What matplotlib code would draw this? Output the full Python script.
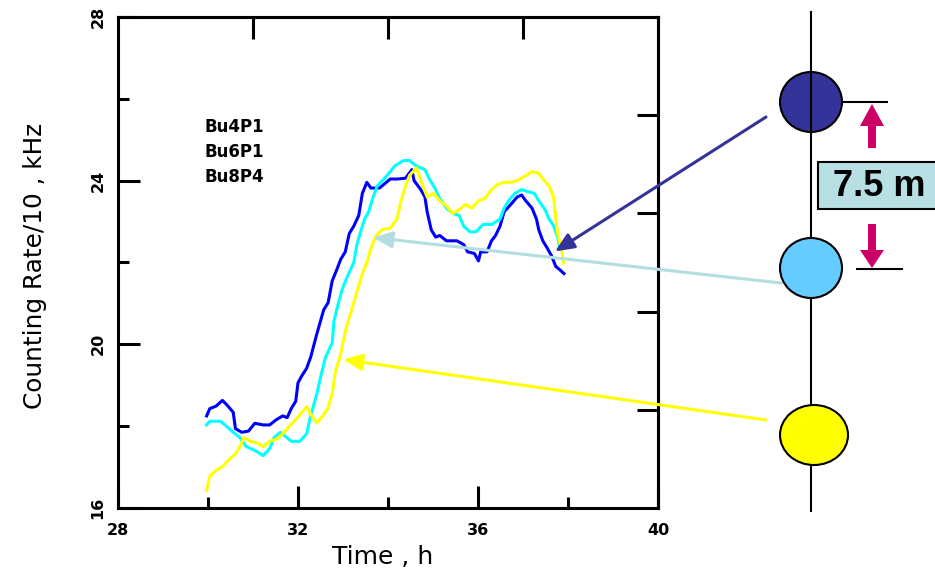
import matplotlib.pyplot as plt
from matplotlib.patches import Ellipse, FancyArrow, Rectangle

# counting rate traces (time in h, rate/10 in kHz)
time_bu4 = [29.97, 30.04, 30.18, 30.32, 30.42, 30.56, 30.61, 30.75, 30.9, 31.04, 31.23, 31.37,
            31.52, 31.66, 31.76, 31.85, 31.95, 32.0, 32.09, 32.19, 32.28, 32.41, 32.5, 32.57,
            32.67, 32.76, 32.86, 32.95, 33.05, 33.14, 33.24, 33.35, 33.43, 33.53, 33.62, 33.81,
            33.91, 34.05, 34.2, 34.39, 34.53, 34.58, 34.73, 34.82, 34.87, 34.96, 35.06, 35.15,
            35.3, 35.53, 35.68, 35.77, 35.92, 36.01, 36.06, 36.2, 36.3, 36.39, 36.49, 36.58,
            36.73, 36.87, 36.97, 37.06, 37.2, 37.3, 37.35, 37.44, 37.54, 37.63, 37.73, 37.82,
            37.91]
rate_bu4 = [18.25, 18.43, 18.49, 18.63, 18.52, 18.34, 17.94, 17.85, 17.88, 18.07, 18.03, 18.03,
            18.16, 18.25, 18.21, 18.43, 18.61, 19.06, 19.24, 19.41, 19.68, 20.22, 20.57, 20.84,
            21.02, 21.55, 21.82, 22.08, 22.26, 22.71, 22.89, 23.15, 23.69, 23.96, 23.82, 23.82,
            23.91, 24.04, 24.04, 24.06, 24.27, 24.0, 23.78, 23.6, 23.24, 22.8, 22.62, 22.66,
            22.53, 22.53, 22.44, 22.26, 22.22, 22.04, 22.26, 22.26, 22.53, 22.66, 22.89, 23.24,
            23.42, 23.6, 23.65, 23.51, 23.33, 23.06, 22.8, 22.53, 22.35, 22.17, 21.9, 21.82,
            21.73]

time_bu6 = [29.97, 30.04, 30.28, 30.42, 30.56, 30.71, 30.85, 31.04, 31.23, 31.37, 31.47, 31.61,
            31.71, 31.85, 32.04, 32.19, 32.28, 32.42, 32.49, 32.61, 32.76, 32.8, 32.9, 32.99,
            33.09, 33.24, 33.31, 33.38, 33.48, 33.57, 33.67, 33.76, 33.91, 34.05, 34.15, 34.34,
            34.48, 34.63, 34.82, 34.92, 35.06, 35.15, 35.3, 35.44, 35.58, 35.68, 35.82, 35.96,
            36.11, 36.3, 36.49, 36.58, 36.68, 36.82, 36.97, 37.11, 37.25, 37.35, 37.49, 37.58,
            37.68, 37.77, 37.82]
rate_bu6 = [18.03, 18.12, 18.12, 17.99, 17.85, 17.72, 17.5, 17.41, 17.28, 17.45, 17.72, 17.85,
            17.76, 17.63, 17.63, 17.81, 18.25, 18.79, 19.15, 19.68, 20.04, 20.57, 21.02, 21.37,
            21.64, 22.0, 22.44, 22.71, 23.06, 23.24, 23.6, 23.87, 24.04, 24.22, 24.36, 24.49,
            24.49, 24.36, 24.27, 24.04, 23.78, 23.56, 23.33, 23.2, 23.15, 22.89, 22.75, 22.75,
            22.93, 22.93, 23.06, 23.33, 23.51, 23.69, 23.78, 23.73, 23.69, 23.51, 23.29, 23.06,
            22.89, 22.62, 22.35]

time_bu8 = [29.97, 30.04, 30.18, 30.32, 30.47, 30.61, 30.71, 30.8, 30.94, 31.09, 31.23, 31.37,
            31.52, 31.66, 31.8, 31.95, 32.09, 32.19, 32.28, 32.42, 32.55, 32.66, 32.76, 32.83,
            32.95, 33.05, 33.14, 33.24, 33.33, 33.43, 33.53, 33.62, 33.72, 33.86, 34.05, 34.2,
            34.29, 34.39, 34.48, 34.63, 34.72, 34.87, 35.01, 35.15, 35.3, 35.44, 35.58, 35.72,
            35.86, 36.01, 36.15, 36.3, 36.44, 36.58, 36.73, 36.87, 37.01, 37.2, 37.35, 37.44,
            37.58, 37.68, 37.73, 37.77, 37.87, 37.9]
rate_bu8 = [16.43, 16.78, 16.92, 17.01, 17.19, 17.32, 17.5, 17.72, 17.63, 17.59, 17.5, 17.63,
            17.68, 17.81, 17.99, 18.16, 18.34, 18.48, 18.3, 18.08, 18.25, 18.43, 18.79, 19.33,
            19.77, 20.31, 20.66, 21.02, 21.37, 21.73, 22.0, 22.35, 22.62, 22.8, 22.84, 23.06,
            23.51, 23.87, 24.13, 24.31, 24.04, 23.6, 23.69, 23.51, 23.38, 23.2, 23.29, 23.42,
            23.33, 23.51, 23.56, 23.78, 23.91, 23.96, 23.96, 24.0, 24.09, 24.22, 24.18, 24.04,
            23.87, 23.6, 23.06, 22.71, 22.26, 21.99]

series_names = ["Bu4P1", "Bu6P1", "Bu8P4"]
series_colors = ["#0000ff", "#00ffff", "#ffff00"]
x_ticks = [28, 32, 36, 40]
y_ticks = [16, 20, 24, 28]

fig = plt.figure(figsize=(9.35, 5.74), dpi=100)
fig.patch.set_facecolor('white')

ax = fig.add_axes([118 / 935, 1 - 508 / 574, 540 / 935, 491 / 574])
for t, r, c in zip([time_bu4, time_bu6, time_bu8], [rate_bu4, rate_bu6, rate_bu8], series_colors):
    ax.plot(t, r, color=c, lw=2.2)

ax.set_xlim(28, 40)
ax.set_ylim(16, 28)
ax.set_xticks(x_ticks)
ax.set_xticklabels([str(v) for v in x_ticks], fontsize=11.5, fontweight='bold')
ax.set_xticks([30, 34, 38], minor=True)
ax.set_yticks(y_ticks)
ax.set_yticklabels([str(v) for v in y_ticks], fontsize=11.5, fontweight='bold',
                   rotation=90, va='center')
ax.set_yticks([18, 22, 26], minor=True)
ax.tick_params(which='major', direction='in', length=16, width=2.2)
ax.tick_params(which='minor', direction='in', length=8, width=2.2)
ax.tick_params(axis='x', pad=11)
ax.tick_params(axis='y', pad=9)
for s in ax.spines.values():
    s.set_linewidth(2.2)

# odd tick marks on the top and right frame
top = ax.secondary_xaxis('top')
top.set_xticks([31, 34, 37])
top.tick_params(direction='in', length=16, width=2.2, labeltop=False)
top.spines['top'].set_linewidth(2.2)
right = ax.secondary_yaxis('right')
right.set_yticks([18.4, 20.8, 23.2, 25.6])
right.tick_params(direction='in', length=15, width=2.2, labelright=False)
right.spines['right'].set_linewidth(2.2)

for i, name in enumerate(series_names):
    ax.text(29.93, 25.3 - 0.6 * i, name, fontsize=12, fontweight='bold', va='center')

fig.text(35 / 935, 1 - 266 / 574, "Counting Rate/10 , kHz", rotation=90,
         ha='center', va='center', fontsize=17.8)
fig.text(383 / 935, 1 - 557 / 574, "Time , h", ha='center', va='center', fontsize=18)

# overlay in pixel units for the detector sketch
ov = fig.add_axes([0, 0, 1, 1], zorder=5)
ov.set_xlim(0, 935)
ov.set_ylim(574, 0)
ov.axis('off')
ov.patch.set_alpha(0)

arrow_tips = [(37.71, 22.27), (33.67, 22.61), (33.0, 19.63)]
arrow_tails = [(766, 117), (781, 283), (766, 420)]
arrow_colors = ["#333399", "#b4dde0", "#ffff00"]
for tip, tail, c in zip(arrow_tips, arrow_tails, arrow_colors):
    ov.annotate('', xy=tip, xycoords=ax.transData, xytext=tail, textcoords='data',
                arrowprops=dict(arrowstyle='-|>,head_length=1.15,head_width=0.5',
                                mutation_scale=10, color=c, lw=2.2, shrinkA=0, shrinkB=0))

ov.add_patch(Ellipse((811, 102), 62, 60, facecolor='#333399', edgecolor='black', lw=1.5, zorder=1))
ov.plot([811, 811], [12, 511], color='black', lw=1.5, zorder=2)
ov.add_patch(Ellipse((811, 268), 62, 60, facecolor='#66ccff', edgecolor='black', lw=1.5, zorder=3))
ov.add_patch(Ellipse((814, 435), 68, 60, facecolor='#ffff00', edgecolor='black', lw=1.5, zorder=3))

ov.plot([842, 887], [102, 102], color='black', lw=1.5)
ov.plot([857, 902], [269, 269], color='black', lw=1.5)
ov.add_patch(FancyArrow(872, 148, 0, -44, width=8, head_width=24, head_length=22,
                        length_includes_head=True, color='#cc0066', lw=0))
ov.add_patch(FancyArrow(872, 224, 0, 44, width=8, head_width=24, head_length=18,
                        length_includes_head=True, color='#cc0066', lw=0))
ov.add_patch(Rectangle((818, 162), 130, 47, facecolor='#b8e0e4', edgecolor='black', lw=1.5,
                       clip_on=False))
ov.text(879, 186, "7.5 m", ha='center', va='center', fontsize=26, fontweight='bold',
        family='Liberation Sans')

fig.savefig('out.png', dpi=100, facecolor='white')
